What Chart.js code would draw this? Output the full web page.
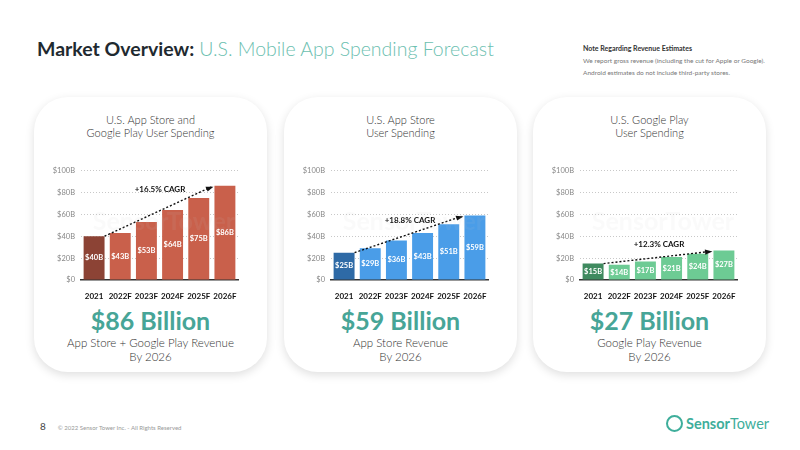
<!DOCTYPE html>
<html>
<head>
<meta charset="utf-8">
<script src="https://cdn.jsdelivr.net/npm/chart.js@4.4.0/dist/chart.umd.min.js"></script>
<style>
  body { margin: 0; width: 800px; height: 450px; background: #fff; font-family: Lato, "Open Sans", sans-serif; position: relative; overflow: hidden; }
  .title { position: absolute; left: 37px; top: 37px; font-size: 19.5px; white-space: nowrap; }
  .title b { color: #1f2a30; font-weight: 700; }
  .title span { color: #6cc0b0; font-weight: 300; }
  .note { position: absolute; left: 583px; top: 42px; font-size: 6.5px; color: #777; line-height: 12px; }
  .note b { color: #333; font-weight: 700; font-size: 7px; }
  .card { position: absolute; top: 97px; width: 233px; height: 275px; border-radius: 34px; background: #fff; box-shadow: 0 3px 10px rgba(0,0,0,0.13); }
  .card h3 { margin: 0; position: absolute; top: 16px; width: 100%; text-align: center; font-size: 11px; font-weight: 300; color: #333; line-height: 13px; }
  .card canvas { position: absolute; left: 6px; top: 63px; }
  .big { position: absolute; top: 208px; width: 100%; text-align: center; font-size: 25px; font-weight: 700; color: #47a597; }
  .sub { position: absolute; top: 239px; width: 100%; text-align: center; font-size: 11.5px; font-weight: 300; color: #333; line-height: 14px; }
  .wm { position: absolute; left: 50px; top: 108px; width: 160px; text-align: center; font-size: 25px; font-weight: 700; color: rgba(200,200,200,0.09); pointer-events: none; }
  .foot { position: absolute; left: 40px; top: 420px; font-size: 10px; color: #444; }
  .foot small { font-size: 6px; color: #999; margin-left: 12px; }
  .logo { position: absolute; left: 666px; top: 415px; font-size: 14.5px; color: #3eae9b; white-space: nowrap; }
  .logo .ic { display: inline-block; width: 13px; height: 13px; border: 2px solid #3eae9b; border-radius: 50%; vertical-align: -3px; margin-right: 3px; }
</style>
</head>
<body>
<div class="title"><b>Market Overview:</b> <span>U.S. Mobile App Spending Forecast</span></div>
<div class="note"><b>Note Regarding Revenue Estimates</b><br>We report gross revenue (including the cut for Apple or Google).<br>Android estimates do not include third-party stores.</div>

<div class="card" style="left:34px">
  <h3>U.S. App Store and<br>Google Play User Spending</h3>
  <canvas id="totalChart" width="205" height="140"></canvas>
  <div class="wm">SensorTower</div>
  <div class="big">$86 Billion</div>
  <div class="sub">App Store + Google Play Revenue<br>By 2026</div>
</div>
<div class="card" style="left:284px">
  <h3>U.S. App Store<br>User Spending</h3>
  <canvas id="appChart" width="205" height="140"></canvas>
  <div class="wm">SensorTower</div>
  <div class="big">$59 Billion</div>
  <div class="sub">App Store Revenue<br>By 2026</div>
</div>
<div class="card" style="left:533px">
  <h3>U.S. Google Play<br>User Spending</h3>
  <canvas id="playChart" width="205" height="140"></canvas>
  <div class="wm">SensorTower</div>
  <div class="big">$27 Billion</div>
  <div class="sub">Google Play Revenue<br>By 2026</div>
</div>

<div class="foot">8<small>© 2022 Sensor Tower Inc. - All Rights Reserved</small></div>
<div class="logo"><span class="ic"></span><b>Sensor</b>Tower</div>

<script>
// Spending in billions USD
const years = ['2021', '2022F', '2023F', '2024F', '2025F', '2026F'];
const totalSpend = [40, 43, 53, 64, 75, 86];
const appStoreSpend = [25, 29, 36, 43, 51, 59];
const googlePlaySpend = [15, 14, 17, 21, 24, 27];
const cagrLabels = ['+16.5% CAGR', '+18.8% CAGR', '+12.3% CAGR'];
const yMax = 100;
const yStep = 20;

// dotted CAGR arrow from first bar to last bar, with label
const cagrArrow = {
    id: 'cagrArrow',
    afterDatasetsDraw(chart, args, opts) {
        const bars = chart.getDatasetMeta(0).data;
        const vals = chart.data.datasets[0].data;
        const y = chart.scales.y;
        const first = bars[0], last = bars[bars.length - 1];
        const x1 = first.x + first.width / 2, y1 = y.getPixelForValue(vals[0]);
        const x2 = last.x - last.width / 2 - 3, y2 = y.getPixelForValue(vals[vals.length - 1]) + 1;
        const ctx = chart.ctx;
        ctx.save();
        ctx.strokeStyle = '#111';
        ctx.lineWidth = 1.4;
        ctx.setLineDash([2, 2]);
        ctx.beginPath();
        ctx.moveTo(x1, y1);
        ctx.lineTo(x2, y2);
        ctx.stroke();
        ctx.setLineDash([]);
        const a = Math.atan2(y2 - y1, x2 - x1);
        ctx.fillStyle = '#111';
        ctx.beginPath();
        ctx.moveTo(x2 + 2, y2);
        ctx.lineTo(x2 - 6 * Math.cos(a - 0.45), y2 - 6 * Math.sin(a - 0.45));
        ctx.lineTo(x2 - 6 * Math.cos(a + 0.45), y2 - 6 * Math.sin(a + 0.45));
        ctx.closePath();
        ctx.fill();
        ctx.font = 'bold 8px Lato, sans-serif';
        ctx.textAlign = 'center';
        ctx.textBaseline = 'middle';
        ctx.fillText(opts.text, (x1 + x2) / 2 + 2, (y1 + y2) / 2 - opts.lift);
        ctx.restore();
    }
};

// white value labels in the middle of each bar
const barLabels = {
    id: 'barLabels',
    afterDatasetsDraw(chart) {
        const ctx = chart.ctx;
        const vals = chart.data.datasets[0].data;
        ctx.save();
        ctx.fillStyle = '#fff';
        ctx.font = 'bold 7.5px Lato, sans-serif';
        ctx.textAlign = 'center';
        ctx.textBaseline = 'middle';
        chart.getDatasetMeta(0).data.forEach((bar, i) => {
            ctx.fillText('$' + vals[i] + 'B', bar.x, (bar.y + bar.base) / 2);
        });
        ctx.restore();
    }
};

function makeChart(id, values, firstColor, color, cagr, lift) {
    new Chart(document.getElementById(id), {
        type: 'bar',
        data: {
            labels: years,
            datasets: [{
                data: values,
                backgroundColor: values.map((v, i) => i === 0 ? firstColor : color),
                barPercentage: 0.8,
                categoryPercentage: 1
            }]
        },
        options: {
            responsive: false,
            animation: false,
            layout: { padding: { top: 7, right: 7 } },
            plugins: {
                legend: { display: false },
                tooltip: { enabled: false },
                cagrArrow: { text: cagr, lift: lift }
            },
            scales: {
                x: {
                    grid: { display: false },
                    border: { display: true, color: '#333', width: 1.5 },
                    ticks: { color: '#111', font: { family: 'Lato', size: 8, weight: 'bold' }, padding: 4,
                        maxRotation: 0, autoSkip: false },
                    afterFit: s => { s.height = 20; }
                },
                y: {
                    min: 0, max: yMax,
                    ticks: { stepSize: yStep, color: '#888', font: { family: 'Lato', size: 7.5 }, padding: 6,
                        callback: v => v === 0 ? '$0' : '$' + v + 'B' },
                    grid: { color: c => c.tick.value === 0 ? 'rgba(0,0,0,0)' : '#c8c8c8', drawTicks: false, lineWidth: 1 },
                    border: { display: false, dash: [1, 2] },
                    afterFit: s => { s.width = 41; }
                }
            }
        },
        plugins: [barLabels, cagrArrow]
    });
}

makeChart('totalChart', totalSpend, '#8c4335', '#c9604b', cagrLabels[0], 22);
makeChart('appChart', appStoreSpend, '#2e6aa6', '#4a9de8', cagrLabels[1], 14);
makeChart('playChart', googlePlaySpend, '#3f8a5f', '#6dcb94', cagrLabels[2], 13);
</script>
</body>
</html>
